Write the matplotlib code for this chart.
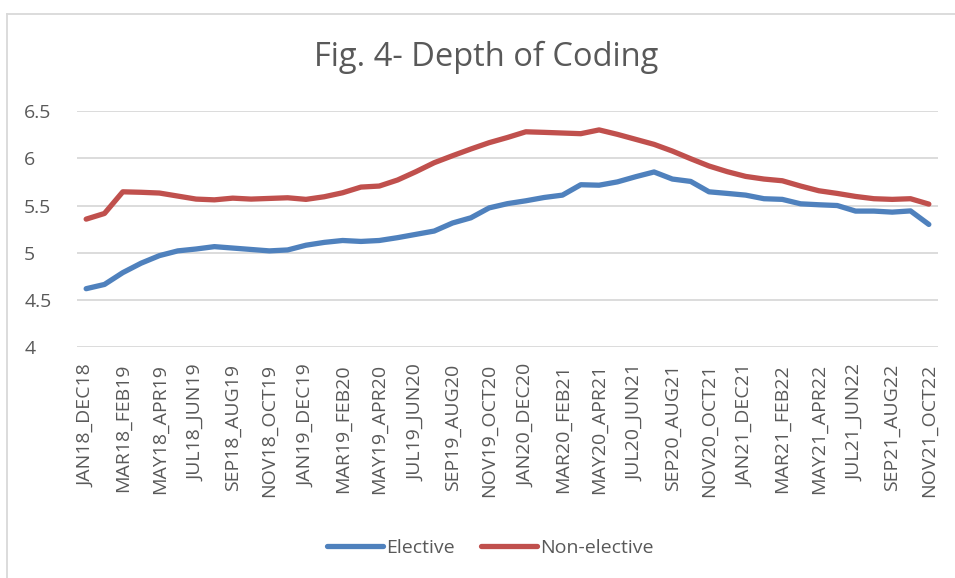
import matplotlib
matplotlib.use("Agg")
import matplotlib.pyplot as plt
from matplotlib.lines import Line2D

months = ["JAN", "FEB", "MAR", "APR", "MAY", "JUN", "JUL", "AUG", "SEP", "OCT", "NOV", "DEC"]
categories = []
for k in range(47):
    s = k
    e = k + 11
    categories.append(f"{months[s % 12]}{18 + s // 12}_{months[e % 12]}{18 + e // 12}")

elective = [4.62, 4.665, 4.79, 4.89, 4.97, 5.02, 5.04, 5.065, 5.05, 5.035, 5.02, 5.03,
            5.08, 5.11, 5.13, 5.12, 5.13, 5.16, 5.195, 5.23, 5.315, 5.37, 5.475, 5.52,
            5.55, 5.585, 5.61, 5.72, 5.715, 5.75, 5.805, 5.855, 5.78, 5.755, 5.645, 5.628,
            5.61, 5.572, 5.565, 5.518, 5.508, 5.50, 5.441, 5.441, 5.43, 5.443, 5.30]
non_elective = [5.356, 5.416, 5.645, 5.64, 5.632, 5.60, 5.568, 5.56, 5.578, 5.568, 5.575, 5.582,
                5.565, 5.593, 5.635, 5.695, 5.706, 5.77, 5.858, 5.953, 6.027, 6.098, 6.165, 6.22,
                6.28, 6.274, 6.267, 6.26, 6.30, 6.253, 6.20, 6.147, 6.076, 5.995, 5.918, 5.858,
                5.808, 5.78, 5.762, 5.706, 5.656, 5.628, 5.596, 5.572, 5.565, 5.572, 5.515]

yticks = [4, 4.5, 5, 5.5, 6, 6.5]
ytick_labels = ["4", "4.5", "5", "5.5", "6", "6.5"]

plt.rcParams['font.family'] = ['Open Sans', 'DejaVu Sans']
text_color = "#595959"

W, H = 955, 578
fig = plt.figure(figsize=(W / 100, H / 100), dpi=100)

# chart frame (left and top edges visible)
fx, fy = 6.5 / W, 1 - 13.5 / H
fig.add_artist(Line2D([fx, fx], [0, fy], transform=fig.transFigure, color="#D9D9D9", linewidth=1.3))
fig.add_artist(Line2D([fx, 1], [fy, fy], transform=fig.transFigure, color="#D9D9D9", linewidth=1.3))

ax_l, ax_r = 77, 938
ax_t, ax_b = 111, 347.3
ax = fig.add_axes([ax_l / W, 1 - ax_b / H, (ax_r - ax_l) / W, (ax_b - ax_t) / H])

x = list(range(len(categories)))
ax.plot(x, elective, color="#4F81BD", linewidth=3.8, label="Elective", solid_capstyle="round")
ax.plot(x, non_elective, color="#C0504D", linewidth=3.8, label="Non-elective", solid_capstyle="round")

ax.set_xlim(-0.5, len(categories) - 0.5)
ax.set_ylim(4, 6.5)
ax.set_yticks(yticks)
ax.set_yticklabels(ytick_labels)
ax.set_xticks(x[::2])
ax.set_xticklabels(categories[::2], rotation=90)
ax.tick_params(axis='both', length=0, colors=text_color, labelsize=14)
ax.tick_params(axis='x', pad=12)
ax.tick_params(axis='y', pad=38)
for lab in ax.get_yticklabels():
    lab.set_horizontalalignment('left')
ax.grid(axis='y', color="#D9D9D9", linewidth=1.3)
ax.set_axisbelow(True)
for sp in ax.spines.values():
    sp.set_visible(False)

fig.text(486 / W, 1 - 57 / H, "Fig. 4- Depth of Coding", ha='center', va='center',
         fontsize=23.5, color=text_color)

leg = fig.legend(loc='center', bbox_to_anchor=(490 / W, 1 - 548 / H), ncol=2, frameon=False,
                 fontsize=14, handlelength=2.9, handletextpad=0.15, columnspacing=1.35)
for t in leg.get_texts():
    t.set_color(text_color)

fig.savefig("out.png", dpi=100)
